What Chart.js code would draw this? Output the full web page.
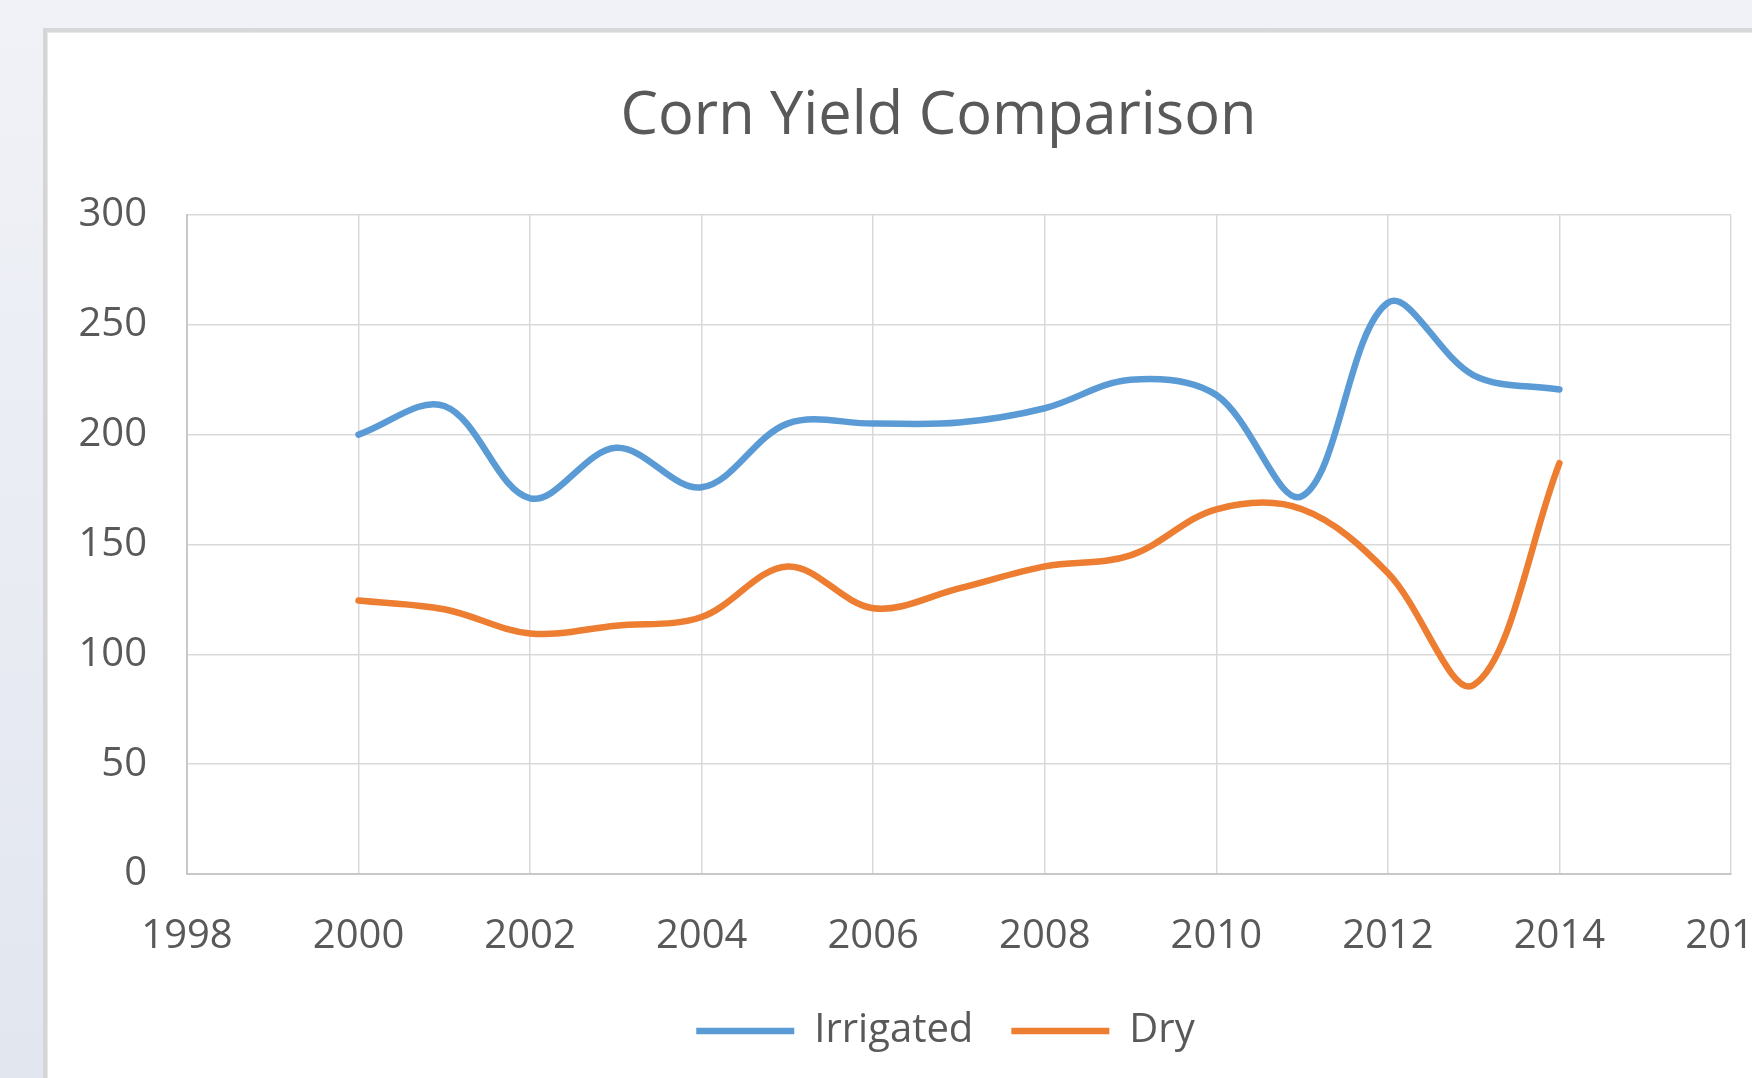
<!DOCTYPE html>
<html>
<head>
<meta charset="utf-8">
<script src="https://cdn.jsdelivr.net/npm/chart.js@4/dist/chart.umd.min.js"></script>
<style>
  html, body { margin: 0; padding: 0; width: 1752px; height: 1078px; overflow: hidden; }
  body { background: linear-gradient(to bottom, #f0f2f7 0%, #e9ecf3 50%, #e2e6ef 100%); position: relative; }
  #card { position: absolute; left: 43px; top: 28px; width: 1800px; height: 1200px; background: #ffffff;
          border-left: 4px solid #d5d5d5; border-top: 4px solid #d8d8d8; box-shadow: inset 1px 1px 0 #e8e8e8; }
  #c { position: absolute; left: 0; top: 0; }
</style>
</head>
<body>
<div id="card"></div>
<canvas id="c" width="1752" height="1078"></canvas>
<script>
const years = [2000, 2001, 2002, 2003, 2004, 2005, 2006, 2007, 2008, 2009, 2010, 2011, 2012, 2013, 2014];
const irrigated = [200, 213, 171, 194, 176, 205, 205, 205.5, 212, 225, 218, 172, 260, 227, 220.5];
const dry = [124.5, 120.5, 109.5, 113, 117, 140, 121, 130, 140, 145, 166, 166, 137, 86, 187];
const seriesNames = ['Irrigated', 'Dry'];
const chartTitle = 'Corn Yield Comparison';

const FONT = "'Open Sans', 'DejaVu Sans', sans-serif";
const TEXT = '#595959';
const GRID = '#d9d9d9';

const toPoints = (vals) => years.map((y, i) => ({ x: y, y: vals[i] }));

// Horizontal offsets so title and legend sit where the reference centres them.
const shiftPlugin = {
  id: 'shiftBoxes',
  afterLayout(chart) {
    const lg = chart.legend;
    if (lg) { lg.left += 58; lg.right += 58; }
    const tb = chart.titleBlock;
    if (tb) { tb.left += 51; tb.right += 51; }
  }
};

new Chart(document.getElementById('c'), {
  type: 'line',
  data: {
    datasets: [
      { label: seriesNames[0], data: toPoints(irrigated), borderColor: '#5B9BD5', backgroundColor: '#5B9BD5',
        borderWidth: 6.5, pointRadius: 0, tension: 0.35, borderCapStyle: 'round', borderJoinStyle: 'round', pointStyle: 'line' },
      { label: seriesNames[1], data: toPoints(dry), borderColor: '#ED7D31', backgroundColor: '#ED7D31',
        borderWidth: 6.5, pointRadius: 0, tension: 0.35, borderCapStyle: 'round', borderJoinStyle: 'round', pointStyle: 'line' }
    ]
  },
  plugins: [shiftPlugin],
  options: {
    responsive: false,
    animation: false,
    devicePixelRatio: 1,
    layout: { padding: { left: 44, right: 21, top: 0, bottom: 17 } },
    plugins: {
      title: {
        display: true, text: chartTitle, color: TEXT,
        font: { family: FONT, size: 59.5, weight: 'normal', lineHeight: 1.2 },
        padding: { top: 81, bottom: 62.5 }
      },
      legend: {
        position: 'bottom',
        labels: {
          color: TEXT, font: { family: FONT, size: 40 },
          usePointStyle: true, pointStyle: 'line', pointStyleWidth: 98, padding: 38
        }
      },
      tooltip: { enabled: false }
    },
    scales: {
      x: {
        type: 'linear', min: 1998, max: 2016,
        ticks: { stepSize: 2, color: TEXT, font: { family: FONT, size: 40 }, padding: 39, maxRotation: 0,
                 callback: (v) => String(v) },
        grid: { color: GRID, lineWidth: 1.5, drawTicks: false },
        border: { color: '#c8c8c8', width: 2 },
        afterFit: (s) => { s.height = 99; s.paddingLeft = 0; s.paddingRight = 0; }
      },
      y: {
        min: 0, max: 300,
        ticks: { stepSize: 50, color: TEXT, font: { family: FONT, size: 40 }, padding: 40 },
        grid: { color: GRID, lineWidth: 1.5, drawTicks: false },
        border: { color: '#c8c8c8', width: 2 },
        afterFit: (s) => { s.width = 143; s.paddingTop = 0; s.paddingBottom = 0; }
      }
    }
  }
});
</script>
</body>
</html>
